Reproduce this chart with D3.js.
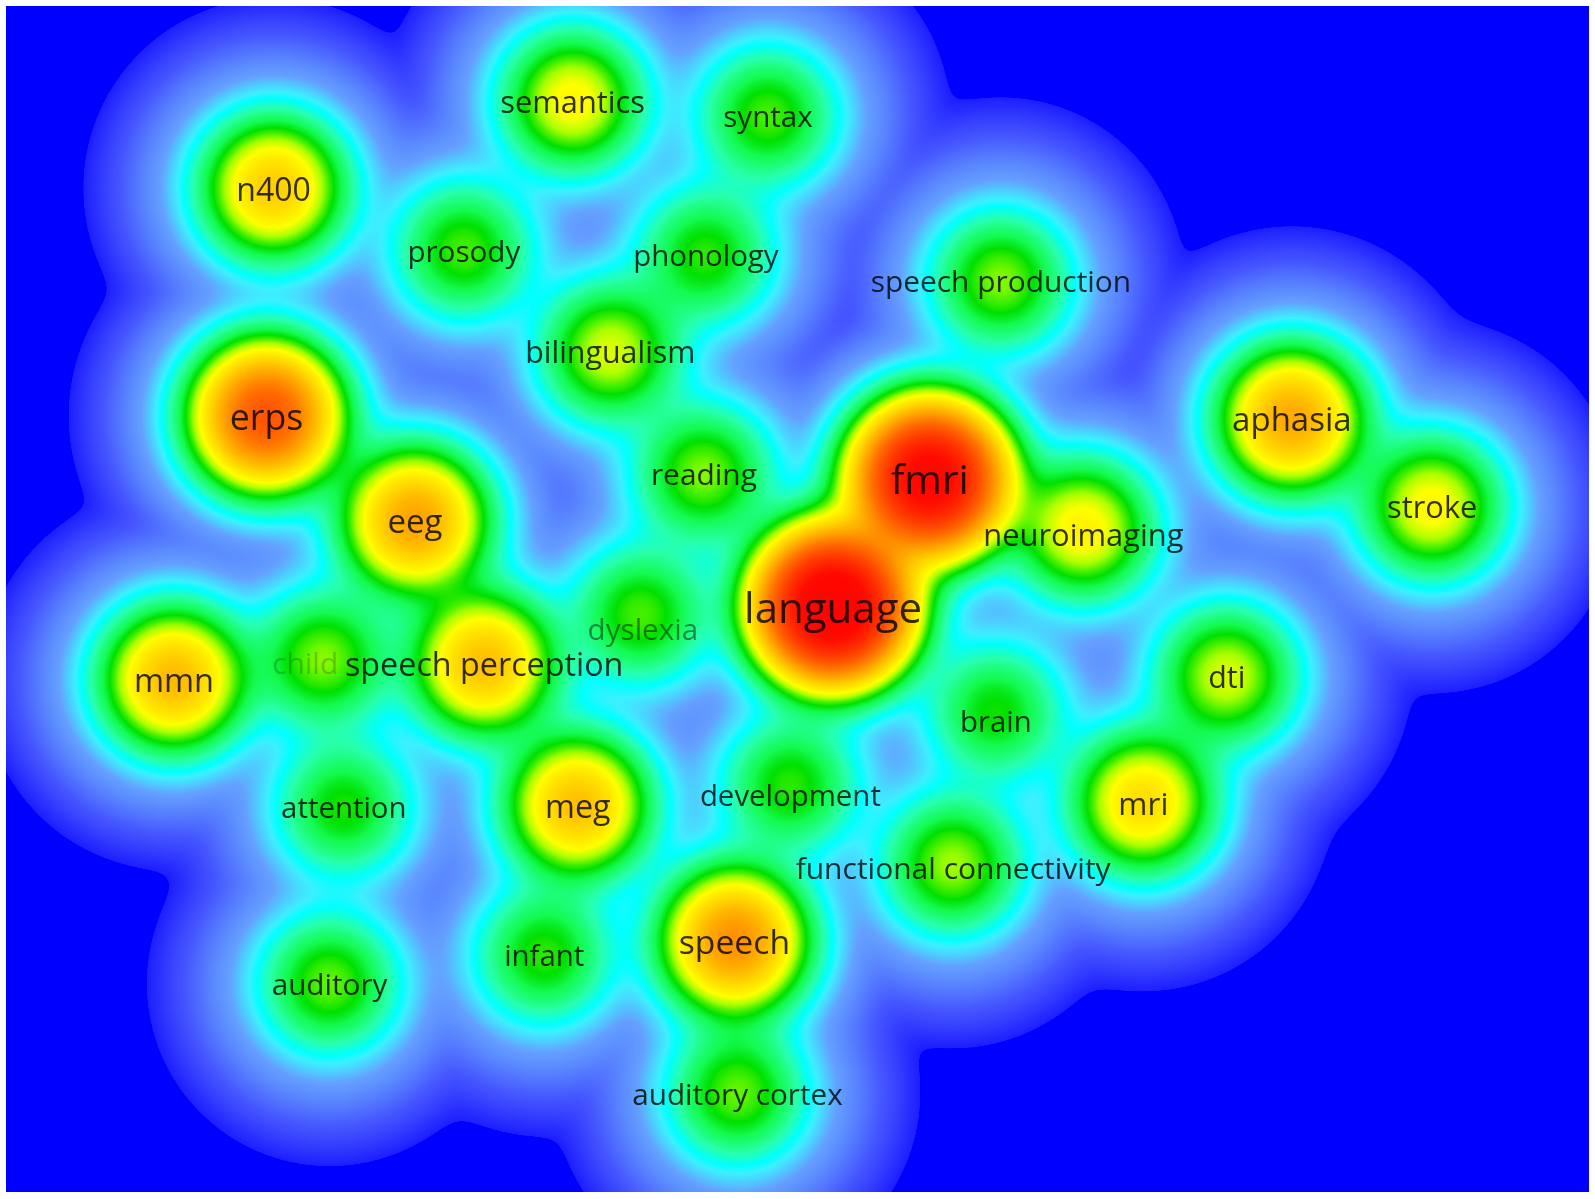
<!DOCTYPE html>
<html><head><meta charset="utf-8">
<script src="https://cdn.jsdelivr.net/npm/d3@7"></script>
<style>
html,body{margin:0;padding:0;background:#fff;}
#wrap{position:relative;width:1595px;height:1199px;overflow:hidden;}
canvas,svg{position:absolute;left:0;top:0;}
</style></head><body>
<div id="wrap"><canvas id="c" width="1595" height="1199"></canvas><svg id="s" width="1595" height="1199"></svg></div>
<script>
const terms = ["semantics","syntax","n400","prosody","phonology","speech production","bilingualism","erps","aphasia","fmri","reading","eeg","stroke","neuroimaging","language","dyslexia","child","speech perception","mmn","dti","brain","attention","meg","development","mri","functional connectivity","speech","infant","auditory","auditory cortex"];
const xs = [563,755,269,456,694,984,600,262,1270,914,692,408,1408,1065,819,630,318,476,171,1206,979,338,568,777,1124,937,722,535,324,725];
const ys = [ 99,114,185,246,251,276,346,409, 412,471,466,512, 498, 520,596,604,648,652,668, 665,700,794,792,772, 789,850,925,939,967,1075];
const weights = [0.12,0.07,0.18,0.07,0.065,0.08,0.10,0.45,0.24,1.0,0.08,0.25,0.12,0.125,1.2,0.07,0.08,0.20,0.21,0.10,0.06,0.062,0.20,0.065,0.155,0.085,0.29,0.065,0.075,0.075];
const labelPos = {dyslexia:[632,618], brain:[979,709], development:[777,782], neuroimaging:[1065,525], "functional connectivity":[937,853], child:[300,651]};

// ---- styling ----
const W = 1595, H = 1199;
const plot = {x0:6, y0:6, x1:1589, y1:1192};
const twoH2 = 3200;           // kernel: exp(-r^2 / 3200)
const logStops  = [-14.5,-13.05,-13.0,-9.0,-5.7,-4.6,-4.25,-3.7,-3.15,-2.85,-2.65,-2.45,-2.2,-1.75,-1.35,-1.0,-0.6,-0.15,0.3];
const logColors = ["#0000ff","#0000ff","#1e1eff","#4658ff","#64a0ff","#3cf0ff","#00ffff","#28ffaa","#14fa50","#00e000","#46f000","#aaff00","#ffff00","#ffd200","#ffa000","#ff6e00","#ff3c00","#ff0a00","#ff0000"];
const labelAlpha = {child:0.2, dyslexia:0.45};

const x = d3.scaleLinear().domain([0,1568]).range([0,W]);
const y = d3.scaleLinear().domain([0,1179]).range([0,H]);
const color = d3.scaleLinear().domain(logStops).range(logColors).interpolate(d3.interpolateRgb).clamp(true);
const fontSize = d3.scaleSqrt().domain([0.057,1.2]).range([29.2,42]);

const items = terms.map((t,i)=>{
  const lp = labelPos[t] || [xs[i], ys[i]];
  return {term:t, px:x(xs[i]), py:y(ys[i]), lx:x(lp[0]), ly:y(lp[1]), w:weights[i]};
});

// ---- density (log scale colouring) ----
const canvas = document.getElementById('c');
const ctx = canvas.getContext('2d');
ctx.fillStyle = '#fff'; ctx.fillRect(0,0,W,H);
const pw = plot.x1-plot.x0, ph = plot.y1-plot.y0;
const img = ctx.createImageData(pw, ph);
const n = items.length;
const ex = items.map(it=>{const a=new Float64Array(pw); for(let i=0;i<pw;i++){const d=plot.x0+i+0.5-it.px; a[i]=Math.exp(-d*d/twoH2);} return a;});
const ey = items.map(it=>{const a=new Float64Array(ph); for(let j=0;j<ph;j++){const d=plot.y0+j+0.5-it.py; a[j]=it.w*Math.exp(-d*d/twoH2);} return a;});
const LUTN = 4096, Lmin = -15, Lmax = 0.5;
const lut = new Uint8Array(LUTN*3);
for(let k=0;k<LUTN;k++){const c=d3.rgb(color(Lmin + k/(LUTN-1)*(Lmax-Lmin))); lut[k*3]=c.r; lut[k*3+1]=c.g; lut[k*3+2]=c.b;}
const dens = new Float64Array(pw);
for(let j=0;j<ph;j++){
  dens.fill(1e-12);
  for(let k=0;k<n;k++){const wy=ey[k][j]; if(wy<1e-10) continue; const a=ex[k]; for(let i=0;i<pw;i++) dens[i]+=wy*a[i];}
  let o=j*pw*4;
  for(let i=0;i<pw;i++){
    const L = Math.log(dens[i]);
    let idx=Math.round((L-Lmin)/(Lmax-Lmin)*(LUTN-1)); if(idx<0) idx=0; if(idx>LUTN-1) idx=LUTN-1;
    img.data[o]=lut[idx*3]; img.data[o+1]=lut[idx*3+1]; img.data[o+2]=lut[idx*3+2]; img.data[o+3]=255; o+=4;
  }
}
ctx.putImageData(img, plot.x0, plot.y0);

// ---- labels ----
const svg = d3.select('#s');
svg.selectAll('text').data(items).join('text')
  .attr('x', d=>d.lx).attr('y', d=>d.ly)
  .attr('text-anchor','middle').attr('dominant-baseline','central')
  .attr('font-family','"Open Sans", "Noto Sans", sans-serif')
  .attr('font-size', d=>fontSize(d.w).toFixed(1)+'px')
  .attr('fill','#000')
  .attr('fill-opacity', d=>labelAlpha[d.term]!==undefined?labelAlpha[d.term]:0.8)
  .text(d=>d.term);
</script>
</body></html>
